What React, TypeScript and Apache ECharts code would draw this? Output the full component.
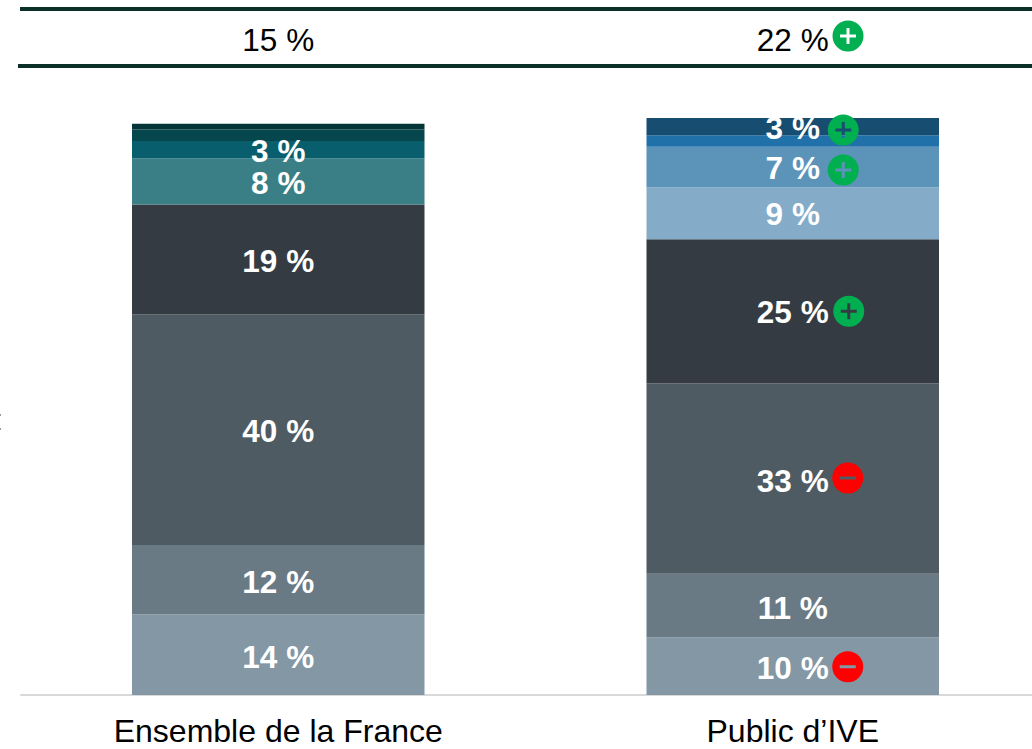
import React, { useEffect, useRef } from "react";
import * as echarts from "echarts";

const categories = ["Ensemble de la France", "Public d\u2019IVE"];
const headerLabels = ["15 %", "22 %"];
// Stacked from the bottom of each column up
const franceValues = [14, 12, 40, 19, 8, 3, 2, 1];
const iveValues = [10, 11, 33, 25, 9, 7, 2, 3];
const franceColors = ["#8497a4", "#6a7a84", "#4f5b63", "#343b42", "#3b7f86", "#085e6c", "#06464d", "#053539"];
const iveColors = ["#8497a4", "#6a7a84", "#4f5b63", "#343b42", "#84abc8", "#5b93b9", "#2070a9", "#174d70"];
const franceLabelled = [true, true, true, true, true, true, false, false];
const iveLabelled = [true, true, true, true, true, true, false, true];
const labelOffsets = [2, 2, 2, 1, 1, 1, 0, 1];
const franceLabelOffsets = [2, 2, 1, 2, 2, 1, 0, 0];

const plusD = "M0 15.5A15.5 15.5 0 1 1 31 15.5A15.5 15.5 0 1 1 0 15.5ZM14 7.5V14H7.5V17H14V23.5H17V17H23.5V14H17V7.5Z";
const minusD = "M0 15.5A15.5 15.5 0 1 1 31 15.5A15.5 15.5 0 1 1 0 15.5ZM7.5 14V17H23.5V14Z";
const GREEN = "#00b050";
const RED = "#ff0000";
// Significance markers on the "Public d'IVE" column: [y value, sign, x offset]
const markerValues: [number, string, number][] = [
  [97.9, "+", 50.5],
  [91, "+", 50.5],
  [66.5, "+", 56],
  [37.6, "-", 55],
  [4.9, "-", 55],
];

echarts.graphic.registerShape("plusHeader", echarts.graphic.extendPath(plusD, {}) as any);

export default function App() {
  const ref = useRef<HTMLDivElement>(null);
  useEffect(() => {
    document.body.style.margin = "0";
    const chart = echarts.init(ref.current!, undefined, { renderer: "svg" });
    const font = "'Liberation Sans', Arial, sans-serif";
    const barSeries = franceValues.map((v, i) => ({
      type: "bar",
      stack: "total",
      barWidth: 292.5,
      xAxisIndex: 0,
      yAxisIndex: 0,
      data: [
        {
          value: v,
          itemStyle: { color: franceColors[i] },
          label: { show: franceLabelled[i], offset: [0, franceLabelOffsets[i]] },
        },
        {
          value: iveValues[i],
          itemStyle: { color: iveColors[i] },
          label: { show: iveLabelled[i], offset: [0, labelOffsets[i]] },
        },
      ],
      label: {
        position: "inside",
        formatter: (p: any) => `${p.value} %`,
        color: "#ffffff",
        fontFamily: font,
        fontWeight: "bold",
        fontSize: 31.5,
      },
      emphasis: { disabled: true },
    }));
    chart.setOption({
      animation: false,
      backgroundColor: "#ffffff",
      grid: { left: 21, top: 118, width: 1029, height: 577, containLabel: false, outerBoundsMode: "none" },
      xAxis: [
        {
          type: "category",
          data: categories,
          offset: 1,
          axisLine: { lineStyle: { color: "#d9d9d9", width: 2 } },
          axisTick: { show: false },
          axisLabel: { color: "#000000", fontFamily: font, fontSize: 32, lineHeight: 30, margin: 20, interval: 0 },
        },
        {
          type: "category",
          position: "top",
          data: headerLabels,
          axisLine: { show: false },
          axisTick: { show: false },
          axisLabel: { color: "#000000", fontFamily: font, fontSize: 31.5, margin: 62, interval: 0 },
        },
      ],
      yAxis: { type: "value", min: 0, max: 100, show: false },
      series: [
        ...barSeries,
        {
          type: "scatter",
          xAxisIndex: 0,
          yAxisIndex: 0,
          z: 5,
          symbolSize: 31,
          emphasis: { disabled: true },
          data: markerValues.map(([y, sign, dx]) => ({
            value: [1, y],
            symbol: "path://" + (sign === "+" ? plusD : minusD),
            symbolOffset: [dx, 0],
            itemStyle: { color: sign === "+" ? GREEN : RED, opacity: 1 },
          })),
        },
      ],
      graphic: [
        { type: "rect", shape: { x: 20, y: 7, width: 1040, height: 4 }, style: { fill: "#0b3028" } },
        { type: "rect", shape: { x: 18, y: 64, width: 1042, height: 4 }, style: { fill: "#0b3028" } },
        { type: "plusHeader", x: 832.5, y: 20.5, style: { fill: GREEN } },
        { type: "rect", shape: { x: 0, y: 414, width: 1, height: 2 }, style: { fill: "#999999" } },
        { type: "rect", shape: { x: 0, y: 428, width: 1, height: 2 }, style: { fill: "#999999" } },
      ],
    });
    return () => chart.dispose();
  }, []);
  return (
    <div style={{ width: 1032, height: 749, overflow: "hidden" }}>
      <div ref={ref} style={{ width: 1060, height: 749 }} />
    </div>
  );
}
